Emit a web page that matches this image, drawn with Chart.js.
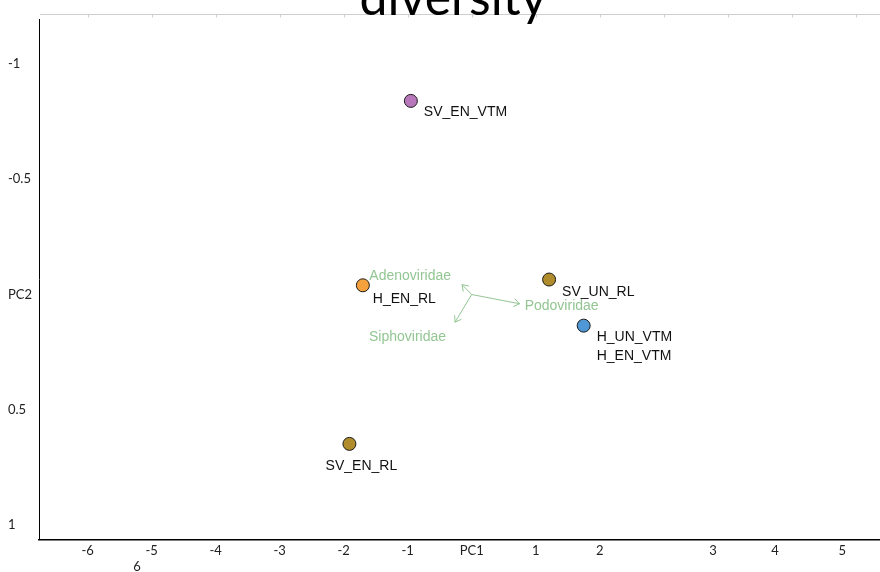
<!DOCTYPE html>
<html>
<head>
<meta charset="utf-8">
<script src="https://cdn.jsdelivr.net/npm/chart.js@4.4.1/dist/chart.umd.min.js"></script>
<style>
  html, body { margin: 0; padding: 0; background: #fff; overflow: hidden; }
  #wrap { position: relative; width: 880px; height: 572px; }
</style>
</head>
<body>
<div id="wrap"><canvas id="c" width="880" height="572"></canvas></div>
<script>
// ---- data ----
const titleText = 'diversity';
const sampleLabels = [['SV_EN_VTM'], ['H_EN_RL'], ['SV_UN_RL'], ['H_UN_VTM', 'H_EN_VTM'], ['SV_EN_RL']];
const samplePC1 = [-0.95, -1.70, 1.21, 1.75, -1.91];
const samplePC2 = [-0.84, -0.04, -0.065, 0.135, 0.648];
const sampleColors = ['#b777ba', '#f5a23e', '#b08c2c', '#4f97d6', '#b08c2c'];

const taxaNames = ['Adenoviridae', 'Podoviridae', 'Siphoviridae'];
const taxaPC1 = [-0.15, 0.75, -0.26];
const taxaPC2 = [-0.043, 0.04, 0.12];

const xTickValues = [-6, -5.23, -5, -4, -3, -2, -1, 0, 1, 2, 3.77, 4.74, 5.79];
const xTickLabels = ['-6', ['', '6'], '-5', '-4', '-3', '-2', '-1', 'PC1', '1', '2', '3', '4', '5'];
const topTickValues = [-6, -5, -4, -3, -2, -1, 0, 1, 2, 3, 4, 5, 6];
const yTickValues = [-1, -0.5, 0, 0.5, 1];
const yTickLabels = ['-1', '-0.5', 'PC2', '0.5', '1'];

// ---- styles (not data) ----
const sampleLabelStyle = [
  {dx: 13, dy: 11, align: 'left'},
  {dx: 10, dy: 14, align: 'left'},
  {dx: 13, dy: 13, align: 'left'},
  {dx: 13, dy: 12, align: 'left'},
  {dx: 12, dy: 22, align: 'center'}
];
const taxaLabelStyle = [
  {dx: -11, dy: -8, align: 'right'},
  {dx: 5, dy: 2, align: 'left'},
  {dx: -9, dy: 15, align: 'right'}
];
const arrowColor = '#93c693';
const labelFont = '14px "Liberation Sans", Arial, sans-serif';
const axisFont = {family: 'Lato, "Open Sans", sans-serif', size: 13};
const titleFont = '50px Lato, "Open Sans", sans-serif';

const datasets = [{
  type: 'scatter',
  data: samplePC1.map((x, i) => ({x, y: samplePC2[i]})),
  backgroundColor: sampleColors,
  borderColor: '#1a1a1a',
  borderWidth: 1,
  pointRadius: 6.5,
  order: 0
}];
taxaNames.forEach((n, i) => {
  datasets.push({
    type: 'line',
    data: [{x: 0, y: 0}, {x: taxaPC1[i], y: taxaPC2[i]}],
    borderColor: arrowColor,
    borderWidth: 1,
    pointRadius: 0,
    fill: false,
    order: 1
  });
});

const decor = {
  id: 'decor',
  beforeDatasetsDraw(chart) {
    const {ctx, chartArea: a, scales: {x}} = chart;
    ctx.save();
    ctx.strokeStyle = '#cfcfcf';
    ctx.lineWidth = 1;
    ctx.beginPath();
    ctx.moveTo(a.left + 1, a.top + 0.5);
    ctx.lineTo(a.right, a.top + 0.5);
    topTickValues.forEach(v => {
      const px = Math.round(x.getPixelForValue(v)) + 0.5;
      ctx.moveTo(px, a.top);
      ctx.lineTo(px, a.top + 3.5);
    });
    ctx.stroke();
    ctx.strokeStyle = '#000';
    ctx.lineWidth = 1;
    ctx.beginPath();
    ctx.moveTo(a.left + 0.5, a.top + 5);
    ctx.lineTo(a.left + 0.5, a.bottom);
    ctx.stroke();
    ctx.fillStyle = '#000';
    ctx.font = titleFont;
    ctx.textAlign = 'center';
    ctx.textBaseline = 'alphabetic';
    ctx.fillText(titleText, 453, a.top + 1);
    ctx.restore();
  },
  afterDatasetsDraw(chart) {
    const {ctx, scales: {x, y}} = chart;
    ctx.save();
    ctx.strokeStyle = arrowColor;
    ctx.lineWidth = 1;
    taxaNames.forEach((n, i) => {
      const x0 = x.getPixelForValue(0), y0 = y.getPixelForValue(0);
      const x1 = x.getPixelForValue(taxaPC1[i]), y1 = y.getPixelForValue(taxaPC2[i]);
      const ang = Math.atan2(y1 - y0, x1 - x0);
      const L = 7, w = 0.6;
      ctx.beginPath();
      ctx.moveTo(x1 - L * Math.cos(ang - w), y1 - L * Math.sin(ang - w));
      ctx.lineTo(x1, y1);
      ctx.lineTo(x1 - L * Math.cos(ang + w), y1 - L * Math.sin(ang + w));
      ctx.stroke();
      const st = taxaLabelStyle[i];
      ctx.font = labelFont;
      ctx.fillStyle = arrowColor;
      ctx.textAlign = st.align;
      ctx.textBaseline = 'middle';
      ctx.fillText(n, x1 + st.dx, y1 + st.dy);
    });
    ctx.fillStyle = '#111';
    ctx.font = labelFont;
    ctx.textBaseline = 'middle';
    sampleLabels.forEach((lines, i) => {
      const px = x.getPixelForValue(samplePC1[i]), py = y.getPixelForValue(samplePC2[i]);
      const st = sampleLabelStyle[i];
      ctx.textAlign = st.align;
      lines.forEach((t, k) => ctx.fillText(t, px + st.dx, py + st.dy + k * 19));
    });
    ctx.restore();
  }
};

new Chart(document.getElementById('c'), {
  data: {datasets},
  options: {
    responsive: false,
    animation: false,
    layout: {autoPadding: false, padding: {left: 8, right: 0, top: 14, bottom: 0}},
    plugins: {
      legend: {display: false},
      tooltip: {enabled: false},
      title: {display: false}
    },
    scales: {
      x: {
        type: 'linear',
        min: -6.76,
        max: 6.38,
        afterBuildTicks: s => { s.ticks = xTickValues.map(v => ({value: v})); },
        afterFit: s => { s.height = 32; s.paddingLeft = 0; s.paddingRight = 0; },
        ticks: {
          autoSkip: false,
          maxRotation: 0,
          padding: 3,
          color: '#222',
          font: axisFont,
          callback: (v, i) => xTickLabels[i]
        },
        grid: {display: true, drawOnChartArea: false, drawTicks: false},
        border: {display: true, color: '#000', width: 1.5}
      },
      y: {
        type: 'linear',
        reverse: true,
        min: -1.217,
        max: 1.065,
        afterBuildTicks: s => { s.ticks = yTickValues.map(v => ({value: v})); },
        afterFit: s => { s.width = 31; s.paddingTop = 0; s.paddingBottom = 0; },
        ticks: {
          autoSkip: false,
          crossAlign: 'far',
          padding: 0,
          color: '#222',
          font: axisFont,
          callback: (v, i) => yTickLabels[i]
        },
        grid: {display: true, drawOnChartArea: false, drawTicks: false},
        border: {display: false}
      }
    }
  },
  plugins: [decor]
});
</script>
</body>
</html>
